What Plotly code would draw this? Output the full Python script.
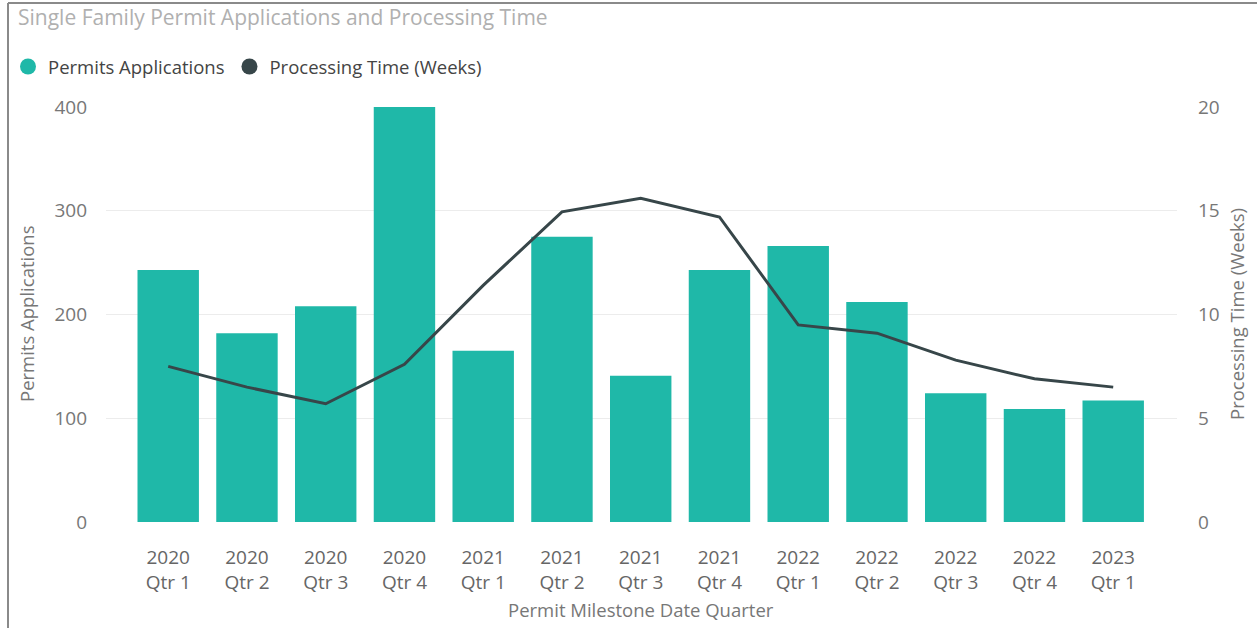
import plotly.graph_objects as go

categories = ["2020<br>Qtr 1", "2020<br>Qtr 2", "2020<br>Qtr 3", "2020<br>Qtr 4",
              "2021<br>Qtr 1", "2021<br>Qtr 2", "2021<br>Qtr 3", "2021<br>Qtr 4",
              "2022<br>Qtr 1", "2022<br>Qtr 2", "2022<br>Qtr 3", "2022<br>Qtr 4",
              "2023<br>Qtr 1"]
permits = [243, 182, 208, 400, 165, 275, 141, 243, 266, 212, 124, 109, 117]
processing_weeks = [7.5, 6.5, 5.7, 7.6, 11.4, 14.95, 15.6, 14.7, 9.5, 9.1, 7.8, 6.9, 6.5]
left_ticks = [0, 100, 200, 300, 400]
right_ticks = [0, 5, 10, 15, 20]

TEAL = "#1fb8a8"
DARK = "#374649"
FONT = "Open Sans"

W, H = 1257, 628
L, R, T, B = 106, 80, 107, 106
pw = W - L - R
ph = H - T - B

def px_x(p):
    return (p - L) / pw

def px_y(p):
    return 1 - (p - T) / ph

fig = go.Figure()
fig.add_trace(go.Bar(x=categories, y=permits, marker_color=TEAL, marker_line_width=0,
                     name="Permits Applications", showlegend=False, yaxis="y"))
fig.add_trace(go.Scatter(x=categories, y=processing_weeks, mode="lines",
                         line=dict(color=DARK, width=3), name="Processing Time (Weeks)",
                         showlegend=False, yaxis="y2"))
# legend entries (circle symbols)
fig.add_trace(go.Scatter(x=[None], y=[None], mode="markers", name="Permits Applications",
                         marker=dict(color=TEAL, size=16, symbol="circle")))
fig.add_trace(go.Scatter(x=[None], y=[None], mode="markers", name="Processing Time (Weeks)",
                         marker=dict(color=DARK, size=16, symbol="circle")))

fig.update_layout(
    width=W, height=H,
    margin=dict(l=L, r=R, t=T, b=B, autoexpand=False),
    paper_bgcolor="white", plot_bgcolor="white",
    font=dict(family=FONT, color="#666666", size=18),
    bargap=0.22,
    title=dict(text="Single Family Permit Applications and Processing Time",
               x=18 / W, xanchor="left", xref="container",
               y=1 - 18 / H, yanchor="middle", yref="container",
               font=dict(family=FONT, size=21, color="#b0b0b0")),
    legend=dict(orientation="h", x=px_x(8), xanchor="left", y=px_y(67), yanchor="middle",
                font=dict(family=FONT, size=18.5, color="#444444"),
                itemwidth=30, tracegroupgap=0, bgcolor="rgba(0,0,0,0)"),
    xaxis=dict(range=[-0.79, 12.81], showgrid=False, zeroline=False, showline=False,
               ticks="", tickfont=dict(size=19, color="#666666"), ticklabelstandoff=22),
    yaxis=dict(range=[0, 400], tickvals=left_ticks, showgrid=True, gridcolor="#ececec",
               gridwidth=1, zeroline=False, showline=False, ticks="",
               tickfont=dict(size=19, color="#777777"), ticklabelstandoff=18),
    yaxis2=dict(range=[0, 20], tickvals=right_ticks, overlaying="y", side="right",
                showgrid=False, zeroline=False, showline=False, ticks="",
                tickfont=dict(size=19, color="#777777"), ticklabelstandoff=20),
    showlegend=True,
)

fig.add_annotation(text="Permits Applications", xref="paper", yref="paper",
                   x=px_x(26), y=px_y(314), xanchor="center", yanchor="middle",
                   textangle=-90, showarrow=False,
                   font=dict(family=FONT, size=18.5, color="#777777"))
fig.add_annotation(text="Processing Time (Weeks)", xref="paper", yref="paper",
                   x=px_x(1236), y=px_y(314), xanchor="center", yanchor="middle",
                   textangle=-90, showarrow=False,
                   font=dict(family=FONT, size=18.5, color="#777777"))
fig.add_annotation(text="Permit Milestone Date Quarter", xref="paper", yref="paper",
                   x=px_x(641), y=px_y(609), xanchor="center", yanchor="middle",
                   showarrow=False,
                   font=dict(family=FONT, size=18.5, color="#777777"))

# frame lines (left and top)
fig.add_shape(type="line", xref="paper", yref="paper", x0=px_x(8), x1=px_x(8),
              y0=px_y(3), y1=px_y(640), line=dict(color="#8a8a8a", width=2))
fig.add_shape(type="line", xref="paper", yref="paper", x0=px_x(8), x1=px_x(1270),
              y0=px_y(3), y1=px_y(3), line=dict(color="#8a8a8a", width=2))

fig.write_html("out.html", config={"displayModeBar": False},
               post_script="document.body.style.margin='0px';")
